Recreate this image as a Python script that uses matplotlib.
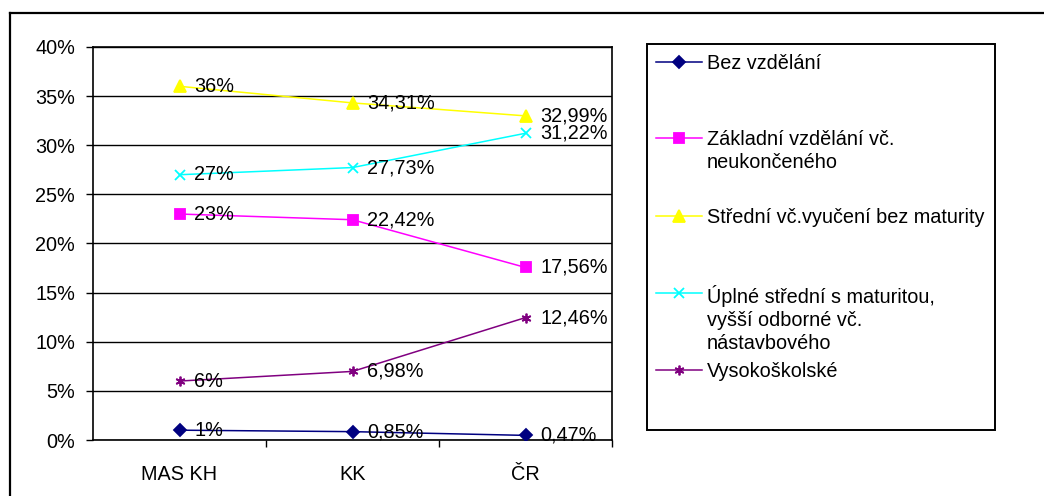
import matplotlib
matplotlib.use("Agg")
import matplotlib.pyplot as plt
from matplotlib.lines import Line2D
from matplotlib.patches import Rectangle

plt.rcParams['font.family'] = ['Liberation Sans', 'DejaVu Sans']

categories = ["MAS KH", "KK", "ČR"]
series_names = [
    "Bez vzdělání",
    "Základní vzdělání vč.\nneukončeného",
    "Střední vč.vyučení bez maturity",
    "Úplné střední s maturitou,\nvyšší odborné vč.\nnástavbového",
    "Vysokoškolské",
]
bez = [1.0, 0.85, 0.47]
zakladni = [23.0, 22.42, 17.56]
stredni = [36.0, 34.31, 32.99]
uplne = [27.0, 27.73, 31.22]
vysoko = [6.0, 6.98, 12.46]
label_texts = [
    ["1%", "0,85%", "0,47%"],
    ["23%", "22,42%", "17,56%"],
    ["36%", "34,31%", "32,99%"],
    ["27%", "27,73%", "31,22%"],
    ["6%", "6,98%", "12,46%"],
]
yticks = [0, 5, 10, 15, 20, 25, 30, 35, 40]

series = [bez, zakladni, stredni, uplne, vysoko]
colors = ["#000080", "#FF00FF", "#FFFF00", "#00FFFF", "#800080"]
markers = ["D", "s", "^", "x", (6, 2, 0)]
msizes = [6.5, 6.5, 8, 7, 7]

FS = 14.3

W, H = 1044, 496
fig = plt.figure(figsize=(W / 100, H / 100), dpi=100)

def fx(px):
    return px / W

def fy(py):
    return 1 - py / H

ax = fig.add_axes([fx(93), fy(440), fx(612) - fx(93), fy(47) - fy(440)])
x = list(range(len(categories)))
for vals, c, m, ms, labs in zip(series, colors, markers, msizes, label_texts):
    ax.plot(x, vals, color=c, lw=1.1, marker=m, ms=ms, mfc=c, mec=c, mew=1.3,
            zorder=3)
    for xi, v, t in zip(x, vals, labs):
        ax.annotate(t, (xi, v), xytext=(10.5, 0), textcoords='offset points',
                    va='center', ha='left', fontsize=FS, color='black', zorder=4)

ax.set_xlim(-0.5, 2.5)
ax.set_ylim(0, 40)
ax.set_yticks(yticks)
ax.set_yticklabels([f"{v}%" for v in yticks], fontsize=FS)
ax.set_xticks(x)
ax.set_xticklabels(categories, fontsize=FS)
ax.set_xticks([0.5, 1.5, 2.5], minor=True)
ax.tick_params(axis='x', which='major', length=0, pad=18)
ax.tick_params(axis='x', which='minor', length=5, direction='out', width=1)
ax.tick_params(axis='y', length=5, direction='out', width=1, pad=8)
ax.grid(axis='y', color='black', lw=1)
ax.set_axisbelow(True)
for s in ax.spines.values():
    s.set_color('black')
    s.set_linewidth(1.2)

# outer chart border (extends beyond the image on right and bottom)
fig.add_artist(Line2D([fx(10), fx(10)], [fy(13), fy(500)], color='black', lw=1.6,
                      transform=fig.transFigure))
fig.add_artist(Line2D([fx(10), fx(1050)], [fy(13), fy(13)], color='black', lw=1.6,
                      transform=fig.transFigure))

# legend box
fig.add_artist(Rectangle((fx(647), fy(430)), fx(995) - fx(647), fy(44) - fy(430),
                         fill=False, ec='black', lw=1.4, transform=fig.transFigure))
entry_y = [62, 138, 216, 293, 370]
for name, c, m, ms, yy in zip(series_names, colors, markers, msizes, entry_y):
    fig.add_artist(Line2D([fx(656), fx(702)], [fy(yy), fy(yy)], color=c, lw=1.1,
                          transform=fig.transFigure))
    fig.add_artist(Line2D([fx(679)], [fy(yy)], color=c, marker=m, ms=ms, mfc=c, mec=c,
                          mew=1.3, transform=fig.transFigure))
    fig.text(fx(707), fy(yy - 8), name, fontsize=FS, va='top', ha='left',
             linespacing=1.28, transform=fig.transFigure)

fig.savefig("out.png", dpi=100)
